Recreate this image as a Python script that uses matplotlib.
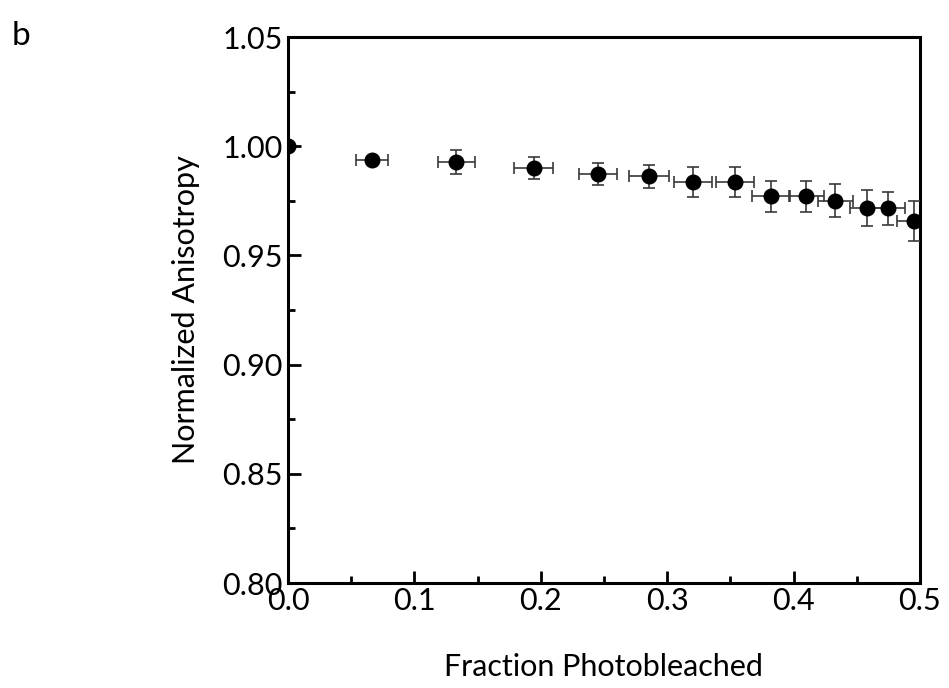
import matplotlib.pyplot as plt
import matplotlib as mpl
from matplotlib.ticker import MultipleLocator, FormatStrFormatter

mpl.rcParams["font.family"] = ["Lato", "DejaVu Sans"]

# fraction photobleached vs normalized anisotropy
frac = [0.0, 0.0667, 0.1333, 0.1944, 0.2450, 0.2857, 0.3206, 0.3540,
        0.3825, 0.4100, 0.4330, 0.4580, 0.4750, 0.4950]
aniso = [1.000, 0.9936, 0.9927, 0.9900, 0.9872, 0.9863, 0.9835, 0.9835,
         0.9770, 0.9770, 0.9750, 0.9716, 0.9716, 0.9657]
frac_err = [0.0, 0.0127, 0.0143, 0.0155, 0.0150, 0.0160, 0.0150, 0.0150,
            0.0150, 0.0140, 0.0140, 0.0135, 0.0130, 0.0135]
aniso_err = [0.0, 0.0015, 0.0054, 0.0050, 0.0050, 0.0053, 0.0069, 0.0069,
             0.0073, 0.0073, 0.0076, 0.0082, 0.0075, 0.0090]

fig = plt.figure(figsize=(9.49, 6.88), dpi=100)
ax = fig.add_axes([0.3035, 0.1526, 0.6659, 0.7936])

ax.errorbar(frac, aniso, xerr=frac_err, yerr=aniso_err, fmt="o",
            color="black", markersize=10.5, ecolor="#3a3a3a", elinewidth=1.2,
            capsize=4, capthick=1.2, zorder=3)

ax.set_xlim(0, 0.5)
ax.set_ylim(0.80, 1.05)
ax.xaxis.set_major_locator(MultipleLocator(0.1))
ax.xaxis.set_minor_locator(MultipleLocator(0.05))
ax.yaxis.set_major_locator(MultipleLocator(0.05))
ax.yaxis.set_minor_locator(MultipleLocator(0.025))
ax.xaxis.set_major_formatter(FormatStrFormatter("%.1f"))
ax.yaxis.set_major_formatter(FormatStrFormatter("%.2f"))

for s in ax.spines.values():
    s.set_linewidth(2.2)
ax.tick_params(which="both", direction="in", width=2, labelsize=22)
ax.tick_params(which="major", length=9)
ax.tick_params(axis="x", which="major", pad=3)
ax.tick_params(axis="y", which="major", pad=4)
ax.tick_params(which="minor", length=5)

ax.set_xlabel("Fraction Photobleached", fontsize=22, labelpad=27)
ax.set_ylabel("Normalized Anisotropy", fontsize=22, labelpad=16)

fig.text(0.012, 0.935, "b", fontsize=24)

fig.savefig("out.png", dpi=100)
